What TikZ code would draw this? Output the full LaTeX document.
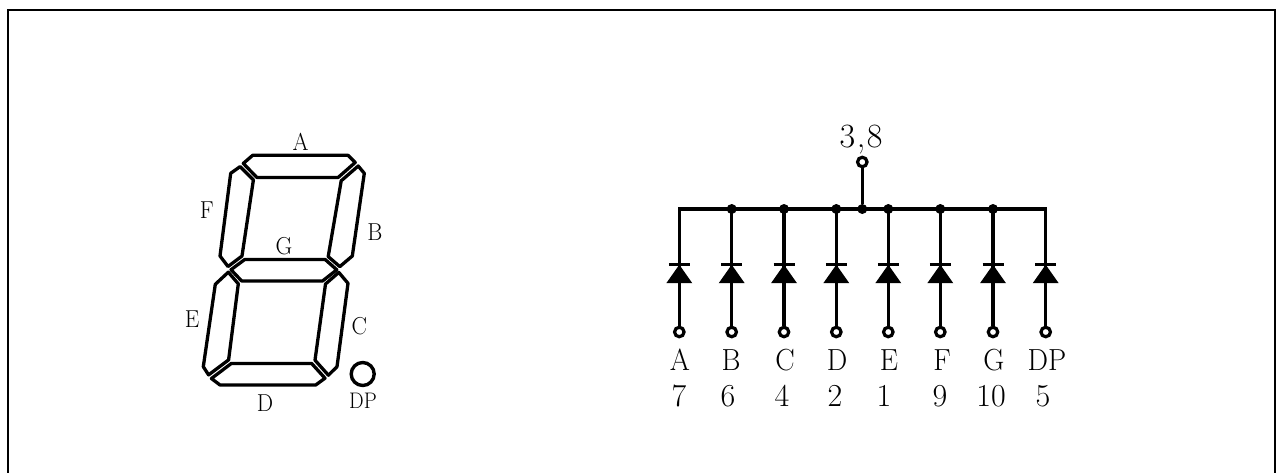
\documentclass[tikz,border=0pt]{standalone}
\usepackage{graphicx}
\usepackage{fontspec}
\newcommand{\biglbl}[1]{\scalebox{.95}[1]{\fontsize{30.5}{30}\selectfont #1}}
\newcommand{\numlbl}[1]{{\fontsize{32}{32}\selectfont #1}}
\newcommand{\smalllbl}[1]{\scalebox{.94}[1]{\fontsize{24.5}{24.5}\selectfont #1}}
\newcommand{\dplbl}[1]{\scalebox{.92}[1]{\fontsize{22.5}{22}\selectfont #1}}
\tikzset{
  seg/.style={draw=black,line width=3.3pt,line join=round},
  wire/.style={draw=black,line width=3.5pt},
  term/.style={circle,draw=black,fill=white,line width=3.2pt,minimum size=9.5pt,inner sep=0pt},
  junc/.style={circle,fill=black,minimum size=10pt,inner sep=0pt},
  biglabel/.style={inner sep=0pt,anchor=base},
  dio/.style={fill=black,draw=none},
  diobar/.style={draw=black,line width=3pt},
}
\begin{document}
\begin{tikzpicture}[x=1pt,y=-1pt]
\useasboundingbox (0,0) rectangle (1277,472);
\draw[line width=2pt] (7.5,473) -- (7.5,10) -- (1275.3,10) -- (1275.3,473);
% seven segment display
% A
\draw[seg] (252.7,155.3) -- (348,155.3) -- (355.2,162.5) -- (338.2,177.4) -- (256.8,177.4) -- (243.3,163.4) -- cycle;
% F
\draw[seg] (240.1,166.6) -- (230.7,173.3) -- (220,256) -- (228,266.5) -- (242,256) -- (253.4,179.9) -- cycle;
% B
\draw[seg] (358.2,166) -- (364.3,173.3) -- (352.3,256) -- (339.8,266.6) -- (328.2,256.6) -- (341.2,180.8) -- cycle;
% G
\draw[seg] (244.7,259.5) -- (325.2,259.5) -- (336.8,269.8) -- (322.5,281) -- (241.7,281) -- (231,269.7) -- cycle;
% E
\draw[seg] (228.3,272.2) -- (215.3,284.3) -- (203.3,366.7) -- (208.6,374.9) -- (228.6,359.9) -- (238.3,283.8) -- cycle;
% C
\draw[seg] (338.8,272.4) -- (348,283.3) -- (337,366.7) -- (328.4,375.2) -- (315,360.2) -- (325.5,284) -- cycle;
% D
\draw[seg] (231.4,363.4) -- (311.6,363.4) -- (325,378.2) -- (315.7,385) -- (220,385) -- (211.4,378.5) -- cycle;
\node[circle,draw=black,line width=3.4pt,minimum size=23pt,inner sep=0pt] (dpdot) at (362.7,374) {};
\node[biglabel] (sa) at (300.7,150.7) {\smalllbl{A}};
\node[biglabel] (sf) at (206.7,218) {\smalllbl{F}};
\node[biglabel] (sb) at (375,240.7) {\smalllbl{B}};
\node[biglabel] (sg) at (284,254) {\smalllbl{G}};
\node[biglabel] (se) at (192,327) {\smalllbl{E}};
\node[biglabel] (sc) at (359.3,334) {\smalllbl{C}};
\node[biglabel] (sd) at (265,411.7) {\smalllbl{D}};
\node[biglabel] (sdp) at (363,408) {\dplbl{DP}};
% common bus
\coordinate (busl) at (679.3,209);
\coordinate (busr) at (1045.7,209);
\draw[wire,line cap=rect] (busl) -- (busr);
\node[junc] (jc) at (862.3,209) {};
\node[term] (tc) at (862.3,162) {};
\draw[wire] (jc) -- (tc);
\node[biglabel] (lc) at (861,147.5) {\fontsize{34}{34}\selectfont 3\kern1.5pt,\kern1.5pt8};
\foreach \n/\x/\j/\lab/\lx/\num/\nx in {
  a/679.3/0/A/680/7/679,
  b/731.7/1/B/731/6/728,
  c/784/1/C/785/4/782,
  d/836.3/1/D/837/2/835,
  e/888.3/1/E/889/1/884,
  f/940.3/1/F/942/9/940,
  g/993/1/G/994/10/991,
  h/1045.7/0/DP/1047/5/1043}{
  \coordinate (top\n) at (\x,209);
  \ifnum\j=1 \node[junc] (j\n) at (top\n) {}; \fi
  \node[term] (t\n) at (\x,332) {};
  \draw[wire] (top\n) -- (t\n);
  \coordinate (bar\n) at (\x,264.7);
  \draw[diobar] ([xshift=-10.5pt]bar\n) -- ([xshift=10.5pt]bar\n);
  \fill[dio] (bar\n) -- ([shift={(-13,18.5)}]bar\n) -- ([shift={(13,18.5)}]bar\n) -- cycle;
  \node[biglabel] (l\n) at (\lx,370) {\biglbl{\lab}};
  \node[biglabel] (n\n) at (\nx,406) {\numlbl{\num}};
}
\end{tikzpicture}
\end{document}
